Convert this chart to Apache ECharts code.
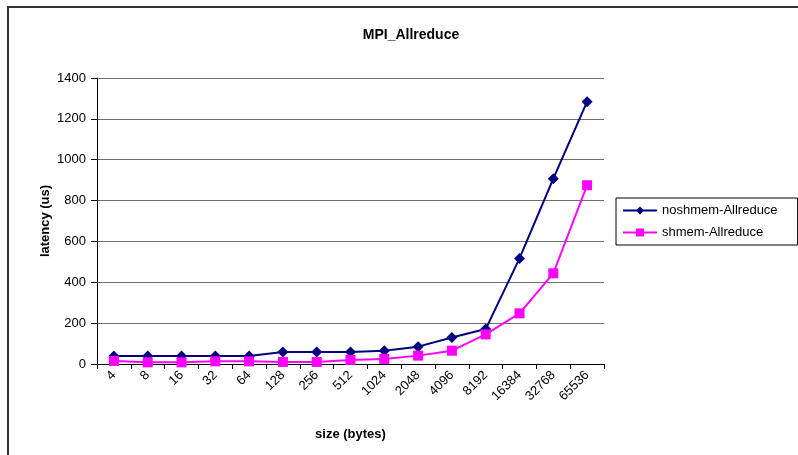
<!DOCTYPE html>
<html>
<head>
<meta charset="utf-8">
<script src="https://cdn.jsdelivr.net/npm/echarts@6/dist/echarts.min.js"></script>
<style>html,body{margin:0;padding:0;background:#fff}#c{width:798px;height:455px}</style>
</head>
<body>
<div id="c"></div>
<script>
const categories = ['4','8','16','32','64','128','256','512','1024','2048','4096','8192','16384','32768','65536'];
const noshmem = [39, 39, 39, 39, 39, 59, 59, 59, 65, 85, 130, 171, 517, 907, 1284];
const shmem = [15, 8, 8, 13, 13, 10, 10, 20, 25, 41, 65, 145, 248, 444, 875];
const yTicks = [0, 200, 400, 600, 800, 1000, 1200, 1400];

const chart = echarts.init(document.getElementById('c'), null, {renderer: 'canvas'});
const font = 'Liberation Sans, Arial, sans-serif';
chart.setOption({
  animation: false,
  backgroundColor: '#fff',
  textStyle: {fontFamily: font},
  title: {
    text: 'MPI_Allreduce', left: 406, top: 23, textAlign: 'center',
    textStyle: {fontSize: 14, fontWeight: 'bold', color: '#000', fontFamily: font}
  },
  graphic: [
    {type: 'line', shape: {x1: 7, y1: 7, x2: 798, y2: 7}, style: {stroke: '#333', lineWidth: 2}},
    {type: 'line', shape: {x1: 8, y1: 7, x2: 8, y2: 455}, style: {stroke: '#333', lineWidth: 2}}
  ],
  legend: {
    left: 616, top: 198, orient: 'vertical',
    borderColor: '#000', borderWidth: 1,
    padding: [6, 20, 6, 6], itemGap: 9,
    itemWidth: 34, itemHeight: 10,
    textStyle: {fontSize: 13, color: '#000', fontFamily: font},
    data: ['noshmem-Allreduce', 'shmem-Allreduce']
  },
  grid: {left: 97, right: 194, top: 78, bottom: 91},
  xAxis: {
    type: 'category', data: categories, boundaryGap: true,
    name: 'size (bytes)', nameLocation: 'middle', nameGap: 64, nameMoveOverlap: false,
    nameTextStyle: {fontSize: 13, fontWeight: 'bold', color: '#000', fontFamily: font},
    axisLine: {lineStyle: {color: '#000', width: 1}},
    axisTick: {show: true, length: 5, interval: 0, alignWithLabel: false, lineStyle: {color: '#000'}},
    axisLabel: {rotate: 45, interval: 0, fontSize: 13, color: '#000', margin: 9, fontFamily: font},
    splitLine: {show: false}
  },
  yAxis: {
    type: 'value', min: yTicks[0], max: yTicks[yTicks.length - 1], interval: 200,
    name: 'latency (us)', nameLocation: 'middle', nameGap: 45, nameMoveOverlap: false,
    nameTextStyle: {fontSize: 13, fontWeight: 'bold', color: '#000', fontFamily: font},
    axisLine: {show: true, lineStyle: {color: '#000', width: 1}},
    axisTick: {show: true, length: 6, lineStyle: {color: '#000'}},
    axisLabel: {fontSize: 13, color: '#000', margin: 11, fontFamily: font, formatter: v => String(v)},
    splitLine: {show: true, lineStyle: {color: '#6e6e6e', width: 1}}
  },
  series: [
    {
      name: 'noshmem-Allreduce', type: 'line', data: noshmem,
      symbol: 'diamond', symbolSize: 11,
      lineStyle: {color: '#000080', width: 2},
      itemStyle: {color: '#000080'}
    },
    {
      name: 'shmem-Allreduce', type: 'line', data: shmem,
      symbol: 'rect', symbolSize: 10,
      lineStyle: {color: '#FF00FF', width: 2},
      itemStyle: {color: '#FF00FF'}
    }
  ]
});
</script>
</body>
</html>
